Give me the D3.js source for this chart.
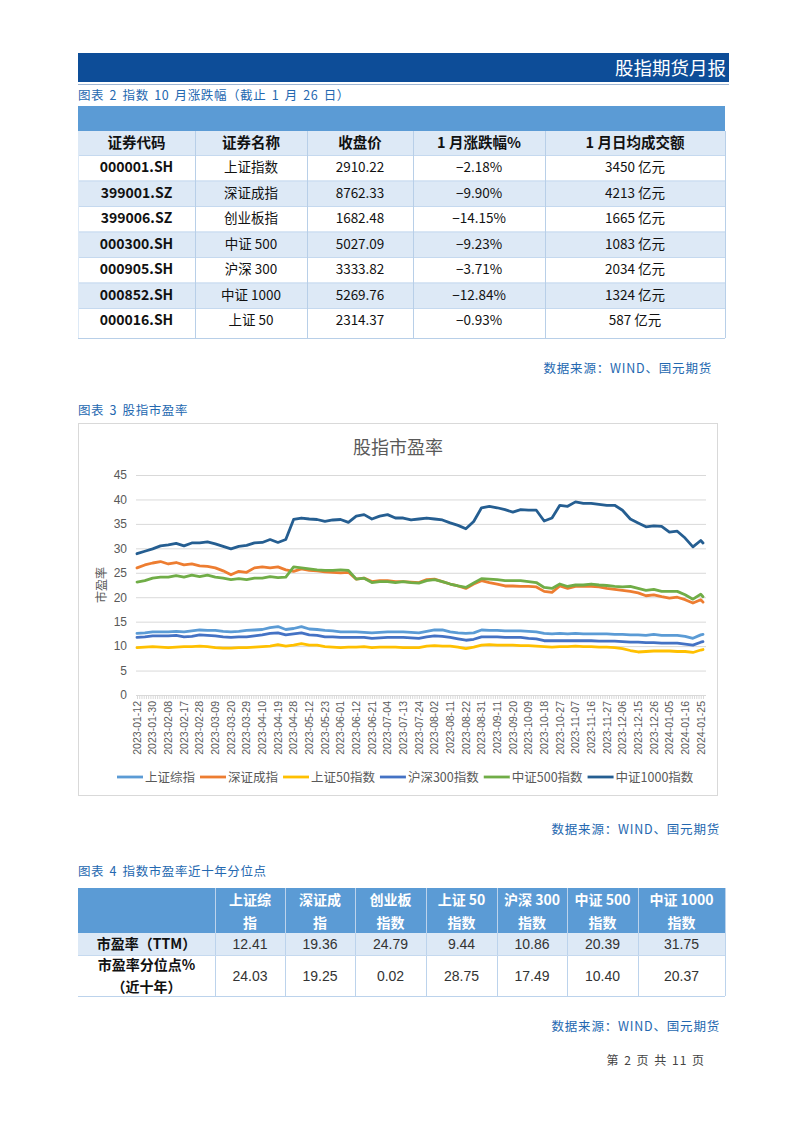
<!DOCTYPE html>
<html>
<head>
<meta charset="utf-8">
<script src="https://cdn.jsdelivr.net/npm/d3@7"></script>
<style>
  body { margin: 0; background: #fff; }
  svg { display: block; }
</style>
</head>
<body>
<div id="page"></div>
<script>
// ---------- table 2 data ----------
var codes = ["000001.SH", "399001.SZ", "399006.SZ", "000300.SH", "000905.SH", "000852.SH", "000016.SH"];
var names = ["上证指数", "深证成指", "创业板指", "中证 500", "沪深 300", "中证 1000", "上证 50"];
var closes = [2910.22, 8762.33, 1682.48, 5027.09, 3333.82, 5269.76, 2314.37];
var pctChg = [-2.18, -9.90, -14.15, -9.23, -3.71, -12.84, -0.93];
var avgTurnover = [3450, 4213, 1665, 1083, 2034, 1324, 587];
var table2Head = ["证券代码", "证券名称", "收盘价", "1 月涨跌幅%", "1 月日均成交额"];

// ---------- chart 3 data ----------
var dateLabels = ["2023-01-12", "2023-01-30", "2023-02-08", "2023-02-17", "2023-02-28", "2023-03-09",
  "2023-03-20", "2023-03-29", "2023-04-10", "2023-04-19", "2023-04-28", "2023-05-12", "2023-05-23",
  "2023-06-01", "2023-06-12", "2023-06-21", "2023-07-04", "2023-07-13", "2023-07-24", "2023-08-02",
  "2023-08-11", "2023-08-22", "2023-08-31", "2023-09-11", "2023-09-20", "2023-10-09", "2023-10-18",
  "2023-10-27", "2023-11-07", "2023-11-16", "2023-11-27", "2023-12-06", "2023-12-15", "2023-12-26",
  "2024-01-05", "2024-01-16", "2024-01-25"];
var yTicks = [0, 5, 10, 15, 20, 25, 30, 35, 40, 45];
var seriesNames = ["上证综指", "深证成指", "上证50指数", "沪深300指数", "中证500指数", "中证1000指数"];
var seriesColors = ["#5b9bd5", "#ed7d31", "#ffc000", "#4472c4", "#70ad47", "#255e91"];

// values read every half label step (3.5 trading days) plus last day
var shComp = [12.6, 12.7, 12.9, 12.9, 12.9, 13.0, 12.9, 13.1, 13.3, 13.2,
  13.2, 13.0, 12.9, 13.0, 13.2, 13.3, 13.4, 13.8, 14.0, 13.4,
  13.6, 14.0, 13.5, 13.4, 13.2, 13.1, 12.9, 12.9, 12.9, 12.8,
  12.7, 12.8, 12.9, 12.9, 12.9, 12.8, 12.7, 13.0, 13.3, 13.3,
  12.9, 12.7, 12.6, 12.7, 13.3, 13.2, 13.2, 13.1, 13.1, 13.1,
  13.0, 12.9, 12.6, 12.5, 12.6, 12.5, 12.6, 12.5, 12.5, 12.5,
  12.5, 12.4, 12.4, 12.3, 12.3, 12.2, 12.4, 12.2, 12.2, 12.2,
  12.0, 11.6, 12.3, 12.4];
var szComp = [26.0, 26.6, 27.0, 27.3, 26.8, 27.1, 26.6, 26.8, 26.4, 26.3,
  26.0, 25.4, 24.6, 25.3, 25.1, 26.0, 26.2, 26.0, 26.2, 25.6,
  25.3, 25.8, 25.5, 25.4, 25.2, 25.1, 25.0, 25.1, 23.7, 23.9,
  23.2, 23.4, 23.4, 23.2, 23.2, 23.1, 23.0, 23.6, 23.7, 23.2,
  22.7, 22.3, 21.8, 22.7, 23.4, 23.0, 22.7, 22.3, 22.3, 22.2,
  22.2, 22.1, 21.2, 21.0, 22.3, 21.8, 22.2, 22.2, 22.2, 22.1,
  21.8, 21.6, 21.4, 21.2, 20.9, 20.3, 20.5, 20.1, 19.8, 20.0,
  19.5, 18.8, 19.5, 19.0];
var sz50 = [9.7, 9.8, 9.9, 9.8, 9.7, 9.8, 9.9, 9.9, 10.0, 9.9,
  9.7, 9.6, 9.6, 9.7, 9.7, 9.8, 9.9, 10.0, 10.3, 10.0,
  10.2, 10.5, 10.2, 10.2, 9.9, 9.8, 9.7, 9.8, 9.8, 9.9,
  9.7, 9.8, 9.8, 9.8, 9.7, 9.7, 9.7, 10.0, 10.1, 10.0,
  10.0, 9.8, 9.5, 9.8, 10.2, 10.3, 10.2, 10.2, 10.2, 10.1,
  10.1, 10.0, 9.9, 9.8, 9.9, 9.9, 10.0, 9.9, 9.9, 9.8,
  9.8, 9.7, 9.5, 9.1, 8.8, 8.9, 9.0, 9.0, 9.0, 8.9,
  8.9, 8.7, 9.2, 9.3];
var hs300 = [11.8, 11.9, 12.1, 12.1, 12.1, 12.2, 11.9, 12.0, 12.3, 12.2,
  12.1, 11.9, 11.8, 11.9, 11.9, 12.1, 12.3, 12.6, 12.7, 12.3,
  12.5, 12.7, 12.3, 12.2, 11.9, 11.9, 11.8, 11.8, 11.8, 11.8,
  11.6, 11.7, 11.8, 11.8, 11.8, 11.7, 11.6, 11.9, 12.1, 12.0,
  11.8, 11.5, 11.2, 11.4, 11.9, 11.9, 11.9, 11.8, 11.8, 11.8,
  11.6, 11.5, 11.1, 11.1, 11.1, 11.1, 11.1, 11.1, 11.1, 11.0,
  11.0, 11.0, 10.9, 10.8, 10.8, 10.7, 10.7, 10.6, 10.6, 10.6,
  10.4, 10.2, 10.8, 10.9];
var zz500 = [23.1, 23.4, 23.9, 24.1, 24.1, 24.4, 24.1, 24.5, 24.2, 24.5,
  24.1, 23.9, 23.6, 23.8, 23.6, 23.9, 23.9, 24.2, 24.0, 24.1,
  26.2, 26.0, 25.8, 25.6, 25.5, 25.5, 25.6, 25.5, 23.7, 23.9,
  23.0, 23.2, 23.2, 23.0, 23.2, 23.0, 22.9, 23.4, 23.6, 23.2,
  22.7, 22.3, 22.0, 22.9, 23.8, 23.7, 23.6, 23.4, 23.4, 23.4,
  23.2, 23.0, 22.0, 21.8, 22.7, 22.2, 22.5, 22.5, 22.7, 22.5,
  22.4, 22.2, 22.1, 22.2, 21.8, 21.4, 21.6, 21.2, 21.2, 21.2,
  20.5, 19.6, 20.6, 20.1];
var zz1000 = [28.9, 29.4, 29.9, 30.5, 30.7, 31.0, 30.5, 31.1, 31.1, 31.3,
  30.9, 30.4, 29.9, 30.4, 30.6, 31.1, 31.2, 31.8, 31.2, 31.8,
  35.9, 36.2, 36.0, 35.9, 35.5, 35.8, 35.9, 35.3, 36.6, 36.9,
  36.0, 36.6, 36.9, 36.2, 36.2, 35.8, 36.0, 36.2, 36.0, 35.8,
  35.2, 34.7, 34.0, 35.5, 38.3, 38.6, 38.3, 37.9, 37.4, 37.9,
  37.8, 37.8, 35.6, 36.2, 38.8, 38.6, 39.5, 39.2, 39.2, 39.0,
  38.8, 38.8, 37.8, 36.0, 35.2, 34.4, 34.6, 34.5, 33.3, 33.5,
  32.1, 30.3, 31.6, 31.1];

// ---------- table 4 data ----------
var peHead = [["上证综", "指"], ["深证成", "指"], ["创业板", "指数"], ["上证 50", "指数"],
  ["沪深 300", "指数"], ["中证 500", "指数"], ["中证 1000", "指数"]];
var peTTM = [12.41, 19.36, 24.79, 9.44, 10.86, 20.39, 31.75];
var pePctile = [24.03, 19.25, 0.02, 28.75, 17.49, 10.40, 20.37];

var cjk = "'Noto Sans CJK SC', 'Noto Sans', sans-serif";
var latin = "'Liberation Sans', Arial, sans-serif";
var captionBlue = "#2468b0";

var svg = d3.select("#page").append("svg")
  .attr("width", 802)
  .attr("height", 1133)
  .style("background", "#fff");

// ---------- page banner ----------
svg.append("rect").attr("x", 78).attr("y", 53).attr("width", 651).attr("height", 29).attr("fill", "#0d4d98");
svg.append("line").attr("x1", 78).attr("x2", 729).attr("y1", 84.5).attr("y2", 84.5)
  .attr("stroke", "#9fb6d3").attr("stroke-width", 1);
svg.append("text").attr("x", 726).attr("y", 75).attr("text-anchor", "end")
  .attr("font-family", cjk).attr("font-size", 18.5).attr("fill", "#fff").text("股指期货月报");

function caption(y, txt) {
  svg.append("text").attr("x", 78).attr("y", y).attr("font-family", cjk)
    .attr("font-size", 12.5).attr("letter-spacing", 0.6).attr("word-spacing", 2)
    .attr("fill", captionBlue).text(txt);
}
function source(y, xEnd) {
  svg.append("text").attr("x", xEnd).attr("y", y).attr("text-anchor", "end").attr("font-family", cjk)
    .attr("font-size", 12.5).attr("letter-spacing", 0.8)
    .attr("fill", captionBlue).text("数据来源：WIND、国元期货");
}

// ---------- table 2 ----------
caption(100, "图表 2 指数 10 月涨跌幅（截止 1 月 26 日）");

var t2Cols = [78, 195, 307, 413, 545, 725];
var t2 = svg.append("g");
t2.append("rect").attr("x", 78).attr("y", 106).attr("width", 647).attr("height", 25).attr("fill", "#5b9bd5");
t2.append("rect").attr("x", 78).attr("y", 131).attr("width", 647).attr("height", 24).attr("fill", "#dde9f6");

var rowTop = d3.scaleLinear().domain([0, 1]).range([155, 180.5]);
codes.forEach(function(c, i) {
  var top = rowTop(i);
  var h = i === codes.length - 1 ? 30 : 25.5;
  t2.append("rect").attr("x", 78).attr("y", top).attr("width", 647).attr("height", h)
    .attr("fill", i % 2 === 1 ? "#dde9f6" : "#fff");
  t2.append("line").attr("x1", 78).attr("x2", 725).attr("y1", top + 0.5).attr("y2", top + 0.5)
    .attr("stroke", "#c5d9ef").attr("stroke-width", 1);
  var cells = [c, names[i], d3.format(".2f")(closes[i]), d3.format(".2f")(pctChg[i]) + "%", avgTurnover[i] + " 亿元"];
  cells.forEach(function(txt, j) {
    t2.append("text")
      .attr("x", (t2Cols[j] + t2Cols[j + 1]) / 2)
      .attr("y", top + 17)
      .attr("text-anchor", "middle")
      .attr("font-family", cjk)
      .attr("font-size", j === 0 ? 14 : 13.5)
      .attr("font-weight", j === 0 ? "bold" : "normal")
      .attr("fill", "#111")
      .text(txt);
  });
});
table2Head.forEach(function(txt, j) {
  t2.append("text").attr("x", (t2Cols[j] + t2Cols[j + 1]) / 2).attr("y", 148)
    .attr("text-anchor", "middle").attr("font-family", cjk).attr("font-size", 14.5)
    .attr("font-weight", "bold").attr("fill", "#111").text(txt);
});
t2Cols.forEach(function(cx, j) {
  t2.append("line").attr("x1", cx + 0.5).attr("x2", cx + 0.5).attr("y1", 131).attr("y2", 338)
    .attr("stroke", j === 0 ? "#dde9f6" : "#b8cfe8").attr("stroke-width", 1);
});
t2.append("line").attr("x1", 78).attr("x2", 725).attr("y1", 338.5).attr("y2", 338.5)
  .attr("stroke", "#b8cfe8").attr("stroke-width", 1);

source(373, 712);

// ---------- chart 3 ----------
caption(415, "图表 3 股指市盈率");

svg.append("rect").attr("x", 78.5).attr("y", 423.5).attr("width", 639).attr("height", 372)
  .attr("fill", "#fff").attr("stroke", "#d9d9d9").attr("stroke-width", 1);
svg.append("text").attr("x", 398).attr("y", 454).attr("text-anchor", "middle")
  .attr("font-family", cjk).attr("font-size", 18).attr("fill", "#595959").text("股指市盈率");

var nDays = 253; // trading-day index of last point
var samplePos = d3.range(0, 36.01, 0.5).map(function(u) { return u * 7; }).concat([nDays]);

var x = d3.scaleLinear().domain([0, nDays]).range([137, 703]);
var y = d3.scaleLinear().domain([0, 45]).range([695, 475]);

var chart = svg.append("g");

// gridlines
chart.append("g")
  .attr("transform", "translate(136,0)")
  .call(d3.axisLeft(y).tickValues(yTicks).tickSize(-570).tickFormat(""))
  .call(function(g) { g.select(".domain").remove(); })
  .selectAll("line").attr("stroke", "#d9d9d9");

// y tick labels
chart.append("g")
  .attr("transform", "translate(136,0)")
  .call(d3.axisLeft(y).tickValues(yTicks).tickSize(0).tickPadding(9))
  .call(function(g) { g.select(".domain").remove(); })
  .selectAll("text")
  .attr("font-family", latin).attr("font-size", 12).attr("fill", "#595959");

// dense category ticks along the bottom
chart.append("g")
  .attr("transform", "translate(0,695)")
  .call(d3.axisBottom(x).tickValues(d3.range(0, nDays + 1)).tickSize(4).tickFormat(""))
  .call(function(g) {
    g.select(".domain").attr("stroke", "#d9d9d9");
    g.selectAll("line").attr("stroke", "#d9d9d9");
  });

// date labels every 7 trading days
chart.append("g")
  .selectAll("text")
  .data(dateLabels)
  .enter()
  .append("text")
  .attr("transform", function(d, i) { return "translate(" + (x(i * 7) + 3.8) + ",701) rotate(-90)"; })
  .attr("text-anchor", "end")
  .attr("font-family", latin)
  .attr("font-size", 10.5)
  .attr("fill", "#595959")
  .text(function(d) { return d; });

// y axis title
svg.append("text").attr("transform", "translate(106,585) rotate(-90)")
  .attr("text-anchor", "middle").attr("font-family", cjk).attr("font-size", 12)
  .attr("fill", "#595959").text("市盈率");

var allSeries = [shComp, szComp, sz50, hs300, zz500, zz1000];
var line = d3.line()
  .x(function(d) { return x(d[0]); })
  .y(function(d) { return y(d[1]); });

allSeries.forEach(function(vals, k) {
  chart.append("path")
    .datum(vals.map(function(v, i) { return [samplePos[i], v]; }))
    .attr("fill", "none")
    .attr("stroke", seriesColors[k])
    .attr("stroke-width", 2.8)
    .attr("stroke-linejoin", "round")
    .attr("stroke-linecap", "round")
    .attr("d", line);
});

// legend
var legend = svg.append("g").attr("transform", "translate(117,777)");
var lx = 0;
seriesNames.forEach(function(nm, k) {
  legend.append("line").attr("x1", lx).attr("x2", lx + 26).attr("y1", 0).attr("y2", 0)
    .attr("stroke", seriesColors[k]).attr("stroke-width", 2.8);
  var t = legend.append("text").attr("x", lx + 28).attr("y", 4.5)
    .attr("font-family", cjk).attr("font-size", 12.5).attr("fill", "#595959").text(nm);
  lx += 28 + t.node().getComputedTextLength() + 5;
});

source(834, 720);

// ---------- table 4 ----------
caption(876, "图表 4 指数市盈率近十年分位点");

var t4Cols = [78, 215, 285, 355, 426, 497, 567, 638, 725];
var t4 = svg.append("g");
t4.append("rect").attr("x", 78).attr("y", 888).attr("width", 647).attr("height", 45).attr("fill", "#5b9bd5");
t4.append("rect").attr("x", 78).attr("y", 933).attr("width", 647).attr("height", 22).attr("fill", "#dde9f6");
t4.append("rect").attr("x", 78).attr("y", 955).attr("width", 647).attr("height", 41).attr("fill", "#fff");

peHead.forEach(function(lines, j) {
  var cx = (t4Cols[j + 1] + t4Cols[j + 2]) / 2;
  lines.forEach(function(txt, r) {
    t4.append("text").attr("x", cx).attr("y", 905 + r * 23).attr("text-anchor", "middle")
      .attr("font-family", cjk).attr("font-size", 14).attr("font-weight", "bold")
      .attr("fill", "#fff").text(txt);
  });
  t4.append("text").attr("x", cx).attr("y", 949).attr("text-anchor", "middle")
    .attr("font-family", latin).attr("font-size", 14).attr("fill", "#333")
    .text(d3.format(".2f")(peTTM[j]));
  t4.append("text").attr("x", cx).attr("y", 981).attr("text-anchor", "middle")
    .attr("font-family", latin).attr("font-size", 14).attr("fill", "#333")
    .text(d3.format(".2f")(pePctile[j]));
});

var lblX = (t4Cols[0] + t4Cols[1]) / 2;
t4.append("text").attr("x", lblX).attr("y", 949).attr("text-anchor", "middle")
  .attr("font-family", cjk).attr("font-size", 14).attr("font-weight", "bold").attr("fill", "#111")
  .text("市盈率（TTM）");
t4.append("text").attr("x", lblX).attr("y", 970).attr("text-anchor", "middle")
  .attr("font-family", cjk).attr("font-size", 14).attr("font-weight", "bold").attr("fill", "#111")
  .text("市盈率分位点%");
t4.append("text").attr("x", lblX).attr("y", 992).attr("text-anchor", "middle")
  .attr("font-family", cjk).attr("font-size", 14).attr("font-weight", "bold").attr("fill", "#111")
  .text("（近十年）");

t4Cols.forEach(function(cx, j) {
  if (j === 0 || j === t4Cols.length - 1) return;
  t4.append("line").attr("x1", cx + 0.5).attr("x2", cx + 0.5).attr("y1", 888).attr("y2", 996)
    .attr("stroke", "#bcd3ec").attr("stroke-width", 1);
});
t4.append("line").attr("x1", 725.5).attr("x2", 725.5).attr("y1", 888).attr("y2", 996)
  .attr("stroke", "#bcd3ec");
t4.append("line").attr("x1", 78).attr("x2", 725).attr("y1", 955.5).attr("y2", 955.5)
  .attr("stroke", "#c5d9ef");
t4.append("line").attr("x1", 78).attr("x2", 725).attr("y1", 996.5).attr("y2", 996.5)
  .attr("stroke", "#bcd3ec");

source(1031, 720);

// ---------- footer ----------
svg.append("text").attr("x", 705).attr("y", 1065).attr("text-anchor", "end")
  .attr("font-family", cjk).attr("font-size", 12).attr("letter-spacing", 1).attr("word-spacing", 1)
  .attr("fill", "#444")
  .text("第 2 页 共 11 页");
</script>
</body>
</html>
